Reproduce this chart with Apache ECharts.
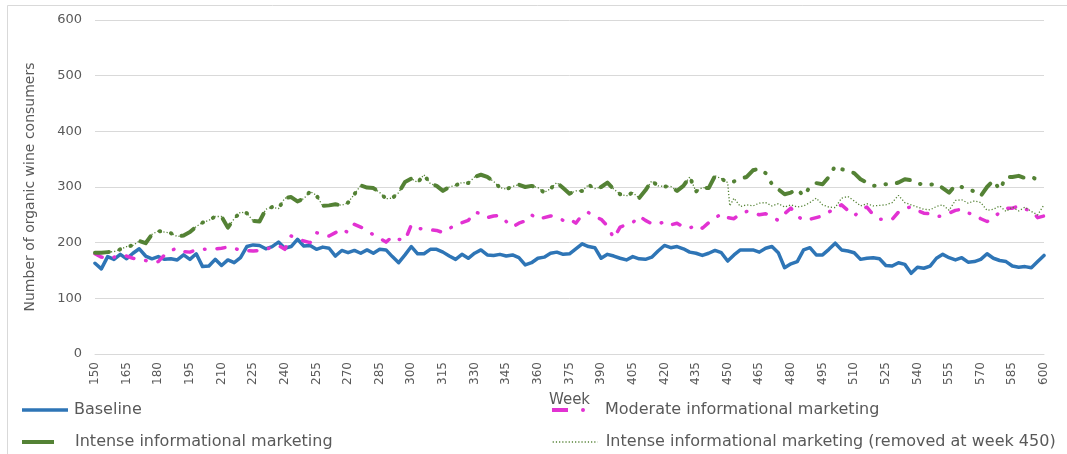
<!DOCTYPE html>
<html>
<head>
<meta charset="utf-8">
<script src="https://cdn.jsdelivr.net/npm/echarts@6/dist/echarts.min.js"></script>
<style>
html,body{margin:0;padding:0;background:#fff;}
#chart{width:1067px;height:454px;}
</style>
</head>
<body>
<div id="chart"></div>
<script>
// Sampled weeks (every 3 weeks)
const weeks = [150,153,156,159,162,165,168,171,174,177,180,183,186,189,192,195,198,201,204,207,210,213,216,219,222,
225,228,231,234,237,240,243,246,249,252,255,258,261,264,267,270,273,276,279,282,285,288,291,294,297,300,
303,306,309,312,315,318,321,324,327,330,333,336,339,342,345,348,351,354,357,360,363,366,369,372,375,
378,381,384,387,390,393,396,399,402,405,408,411,414,417,420,423,426,429,432,435,438,441,444,447,450,
453,456,459,462,465,468,471,474,477,480,483,486,489,492,495,498,501,504,507,510,513,516,519,522,525,
528,531,534,537,540,543,546,549,552,555,558,561,564,567,570,573,576,579,582,585,588,591,594,597,600];

const baseline = [163,153,175,170,179,171,181,189,176,171,175,170,171,169,178,170,180,157,158,170,159,169,164,173,193,
196,195,189,193,201,190,193,206,194,195,188,192,190,176,186,182,186,181,187,181,188,187,175,164,178,193,
180,180,188,188,183,176,170,179,172,181,187,178,177,179,176,178,173,160,164,172,174,181,183,179,180,
189,198,193,191,172,179,176,172,169,175,171,170,174,185,195,191,193,189,183,181,177,181,186,182,167,
178,187,187,187,183,190,193,182,155,162,166,187,191,178,178,188,199,187,185,182,170,172,173,171,159,
158,164,161,145,156,154,158,172,179,173,169,173,165,166,170,180,172,168,166,158,156,157,155,166,177];

const moderate = [180,174,172,174,177,176,172,170,168,165,166,178,186,190,184,183,187,188,189,189,190,192,190,186,186,
185,186,188,192,195,188,212,208,203,200,218,214,212,218,225,218,233,228,222,214,208,201,211,206,204,232,
226,224,223,222,218,225,233,236,240,255,252,245,248,249,238,228,235,239,250,242,245,248,246,240,243,
235,250,254,246,242,230,208,228,232,236,248,240,234,233,238,232,235,228,226,232,226,236,244,252,245,
243,252,256,254,250,252,246,240,252,262,248,240,242,245,248,255,262,268,258,248,258,264,250,242,242,
242,255,262,264,258,253,252,247,248,253,258,260,253,251,243,238,244,255,262,262,266,260,258,245,248];

const intense = [182,182,183,184,188,193,195,203,199,215,221,219,217,211,213,219,229,236,240,247,247,227,243,255,253,
239,238,260,264,261,280,282,274,279,292,285,266,267,269,267,272,287,303,299,298,290,279,280,290,309,315,
308,322,306,302,293,300,303,308,307,318,322,318,310,299,296,301,304,300,302,299,290,297,308,298,288,
293,293,304,297,300,308,296,287,284,290,280,294,311,302,301,301,293,302,318,292,299,298,320,315,308,
310,315,318,330,333,325,305,296,287,290,296,284,300,307,305,318,338,332,329,325,314,308,302,303,305,
305,308,314,312,306,305,304,306,298,290,303,300,296,292,284,300,312,295,318,318,320,316,318,313,310];

// After the intense campaign was removed at week 450
const removedWeeks = [451,453,456,459,462,465,468,471,474,477,480,483,486,489,492,495,498,501,504,507,510,513,516,519,522,525,
528,531,534,537,540,543,546,549,552,555,558,561,564,567,570,573,576,579,582,585,588,591,594,597,600];
const removedAfter = [266,280,265,268,266,271,272,266,270,264,268,264,266,272,280,268,264,263,280,283,275,266,270,266,267,268,
272,285,272,268,264,260,259,265,268,258,276,277,271,275,272,258,260,266,256,264,257,264,256,250,268];

const names = ['Baseline','Moderate informational marketing','Intense informational marketing','Intense informational marketing (removed at week 450)'];

function pairs(xs, ys){ return xs.map(function(w,i){ return [w, ys[i]]; }); }
const cut = weeks.indexOf(450) + 1;
const removedData = pairs(weeks.slice(0, cut), intense.slice(0, cut)).concat(pairs(removedWeeks, removedAfter));

const FONT = 'DejaVu Sans';
const TXT = '#595959';
const C_BLUE = '#2E75B6', C_MAG = '#E232D2', C_GREEN = '#548235';

const legendText = function(pad){ return {color: TXT, fontSize: 16, fontFamily: FONT, padding: [0,0,0,pad]}; };

const chart = echarts.init(document.getElementById('chart'), null, {renderer: 'canvas'});
chart.setOption({
  animation: false,
  backgroundColor: '#fff',
  graphic: [{
    type: 'rect', silent: true, z: -10,
    shape: {x: 7.5, y: 5.5, width: 1200, height: 600},
    style: {fill: 'none', stroke: '#d9d9d9', lineWidth: 1}
  }],
  grid: {left: 95, right: 23, top: 20, bottom: 100, containLabel: false},
  xAxis: {
    type: 'value', min: 150, max: 600, interval: 15,
    name: 'Week', nameLocation: 'middle', nameGap: 36,
    nameTextStyle: {color: TXT, fontSize: 15, fontFamily: FONT},
    axisLine: {show: true, lineStyle: {color: '#d9d9d9', width: 1}},
    axisTick: {show: false},
    splitLine: {show: false},
    axisLabel: {rotate: 90, margin: 8, color: TXT, fontSize: 12, fontFamily: FONT}
  },
  yAxis: {
    type: 'value', min: 0, max: 600, interval: 100,
    name: 'Number of organic wine consumers', nameLocation: 'middle', nameGap: 58,
    nameTextStyle: {color: TXT, fontSize: 14, fontFamily: FONT},
    axisLine: {show: false}, axisTick: {show: false},
    splitLine: {lineStyle: {color: '#d9d9d9', width: 1}},
    axisLabel: {margin: 13, color: TXT, fontSize: 13, fontFamily: FONT}
  },
  legend: [
    {data: [names[0]], left: 22, top: 402, padding: 0, icon: 'rect', itemWidth: 46, itemHeight: 3.5, selectedMode: false,
     textStyle: legendText(1)},
    {data: [names[1]], left: 552, top: 402, padding: 0,
     icon: 'path://M0 0H16V4H0Z M31 0A2 2 0 1 1 31 4A2 2 0 1 1 31 0Z',
     itemWidth: 33, itemHeight: 4, selectedMode: false, textStyle: legendText(15)},
    {data: [names[2]], left: 22, top: 434, padding: 0, icon: 'rect', itemWidth: 32, itemHeight: 4, selectedMode: false,
     textStyle: legendText(16)},
    {data: [names[3]], left: 552, top: 434, padding: 0, itemWidth: 45, itemHeight: 16, selectedMode: false,
     textStyle: legendText(3), itemStyle: {opacity: 0}, lineStyle: {width: 1.3}}
  ],
  series: [
    {name: names[0], type: 'line', data: pairs(weeks, baseline), symbol: 'none', color: C_BLUE,
     lineStyle: {color: C_BLUE, width: 3.5, cap: 'round', join: 'round'}},
    {name: names[1], type: 'line', data: pairs(weeks, moderate), symbol: 'none', color: C_MAG,
     lineStyle: {color: C_MAG, width: 3.5, type: [8, 12, 0.5, 12], cap: 'round', join: 'round'}},
    {name: names[2], type: 'line', data: pairs(weeks, intense), symbol: 'none', color: C_GREEN,
     lineStyle: {color: C_GREEN, width: 4, type: [14, 11, 0.5, 11, 0.5, 11], cap: 'round', join: 'round'}},
    {name: names[3], type: 'line', data: removedData, symbol: 'none', color: C_GREEN,
     lineStyle: {color: C_GREEN, width: 1.3, type: [1.2, 2]}}
  ]
});
</script>
</body>
</html>
